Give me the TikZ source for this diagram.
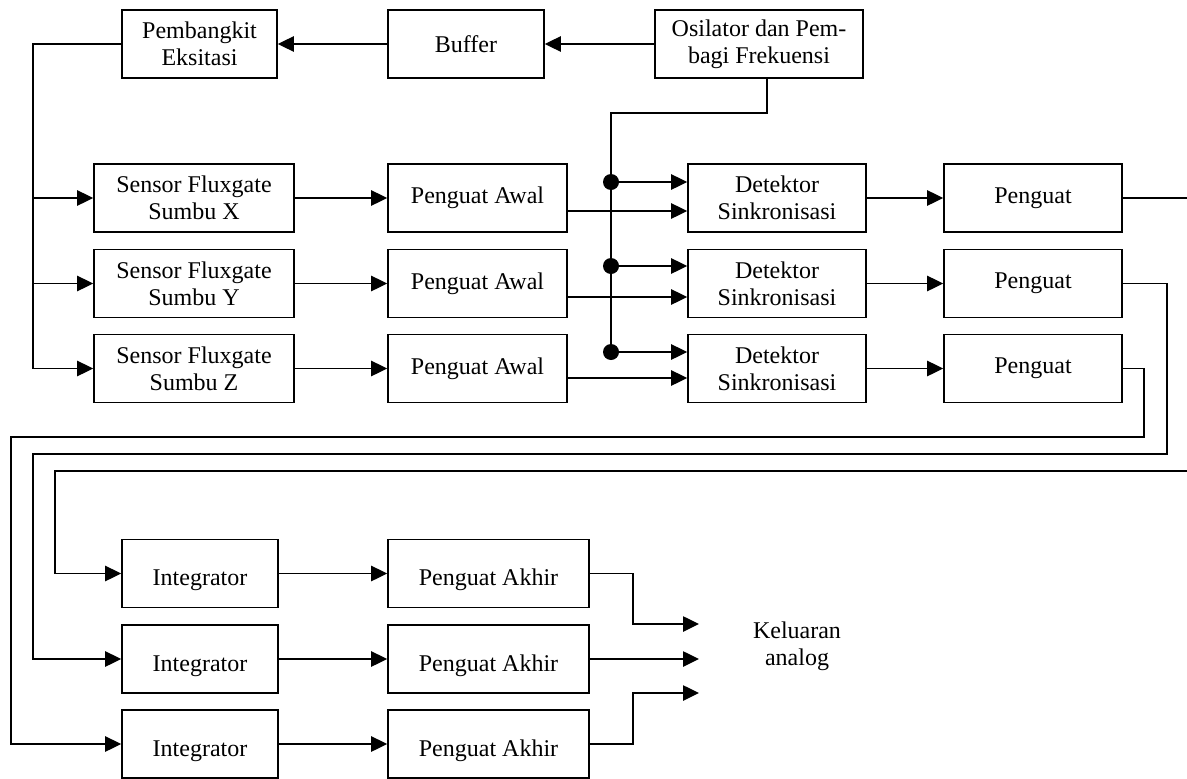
\documentclass[tikz,border=0pt]{standalone}
\usepackage{fontspec}
\setmainfont{Liberation Serif}
\usetikzlibrary{arrows.meta}

\begin{document}
\begin{tikzpicture}[x=0.75pt,y=-0.75pt,line width=1.1pt,
  blok/.style={draw,line width=1.2pt,align=center,minimum height=51pt,inner sep=2pt,
    font=\fontsize{18}{20.25}\selectfont},
  teksbawah/.style={text height=20pt,text depth=1.5pt},
  panah/.style={-{Triangle[length=12pt,width=11.5pt]}}]
\useasboundingbox (0,0) rectangle (1187,778);

% baris atas
\node[blok,minimum width=116.25pt] (pembangkit) at (199.5,44) {Pembangkit\\Eksitasi};
\node[blok,minimum width=117pt] (buffer) at (466,44) {Buffer};
\node[blok,minimum width=156pt] (osilator) at (759,44) {Osilator dan Pem-\\bagi Frekuensi};

% sensor, penguat awal, detektor, penguat
\node[blok,minimum width=150pt] (sensorX) at (194,198) {Sensor Fluxgate\\Sumbu X};
\node[blok,minimum width=150pt] (sensorY) at (194,283.5) {Sensor Fluxgate\\Sumbu Y};
\node[blok,minimum width=150pt] (sensorZ) at (194,368.5) {Sensor Fluxgate\\Sumbu Z};
\node[blok,minimum width=134.25pt] (awalX) at (477.5,198) {Penguat Awal};
\node[blok,minimum width=134.25pt] (awalY) at (477.5,283.5) {Penguat Awal};
\node[blok,minimum width=134.25pt] (awalZ) at (477.5,368.5) {Penguat Awal};
\node[blok,minimum width=133.5pt] (detX) at (777,198) {Detektor\\Sinkronisasi};
\node[blok,minimum width=133.5pt] (detY) at (777,283.5) {Detektor\\Sinkronisasi};
\node[blok,minimum width=133.5pt] (detZ) at (777,368.5) {Detektor\\Sinkronisasi};
\node[blok,minimum width=133.5pt] (pgX) at (1033,198) {Penguat};
\node[blok,minimum width=133.5pt] (pgY) at (1033,283.5) {Penguat};
\node[blok,minimum width=133.5pt] (pgZ) at (1033,368.5) {Penguat};

% integrator dan penguat akhir
\node[blok,teksbawah,minimum width=117pt] (int1) at (200,573.5) {Integrator};
\node[blok,teksbawah,minimum width=117pt] (int2) at (200,659) {Integrator};
\node[blok,teksbawah,minimum width=117pt] (int3) at (200,744) {Integrator};
\node[blok,teksbawah,minimum width=150.75pt] (akhir1) at (488.5,573.5) {Penguat Akhir};
\node[blok,teksbawah,minimum width=150.75pt] (akhir2) at (488.5,659) {Penguat Akhir};
\node[blok,teksbawah,minimum width=150.75pt] (akhir3) at (488.5,744) {Penguat Akhir};
\node[align=center,font=\fontsize{18}{20.25}\selectfont] (keluaran) at (797,646) {Keluaran\\analog};

% titik bantu
\coordinate (kiri) at (33,44);
\coordinate (osc) at ([xshift=6pt]osilator.south);
\coordinate (busA) at (611,113);
\coordinate (d1) at (611,182);
\coordinate (d2) at (611,266);
\coordinate (d3) at (611,352);
\coordinate (a1) at (0,211);
\coordinate (a2) at (0,297);
\coordinate (a3) at (0,378);
\coordinate (keluarX) at (1187,198);
\coordinate (masukX) at (1187,471);
\coordinate (o1) at (699,624);
\coordinate (o2) at (699,659);
\coordinate (o3) at (699,693);

% eksitasi
\draw[panah] (osilator.west) -- (buffer.east);
\draw[panah] (buffer.west) -- (pembangkit.east);
\draw[panah] (pembangkit.west) -- (kiri) |- (sensorZ.west);
\draw[panah] (kiri |- sensorX.west) -- (sensorX.west);
\draw[panah] (kiri |- sensorY.west) -- (sensorY.west);

\draw[panah] (sensorX.east) -- (awalX.west);
\draw[panah] (sensorY.east) -- (awalY.west);
\draw[panah] (sensorZ.east) -- (awalZ.west);

% referensi ke detektor
\draw (osc) |- (busA) -- (d3);
\fill (d1) circle (6pt) (d2) circle (6pt) (d3) circle (6pt);
\draw[panah] (d1) -- (detX.west |- d1);
\draw[panah] (d2) -- (detY.west |- d2);
\draw[panah] (d3) -- (detZ.west |- d3);
\draw[panah] (awalX.east |- a1) -- (detX.west |- a1);
\draw[panah] (awalY.east |- a2) -- (detY.west |- a2);
\draw[panah] (awalZ.east |- a3) -- (detZ.west |- a3);

\draw[panah] (detX.east) -- (pgX.west);
\draw[panah] (detY.east) -- (pgY.west);
\draw[panah] (detZ.east) -- (pgZ.west);

% ke integrator
\draw (pgX.east) -- (keluarX);
\draw[panah] (masukX) -- (55,471) |- (int1.west);
\draw[panah] (pgY.east) -| (1167,454) -- (33,454) |- (int2.west);
\draw[panah] (pgZ.east) -| (1144,437) -- (11,437) |- (int3.west);

\draw[panah] (int1.east) -- (akhir1.west);
\draw[panah] (int2.east) -- (akhir2.west);
\draw[panah] (int3.east) -- (akhir3.west);

% keluaran
\draw[panah] (akhir1.east) -| (633,624) -- (o1);
\draw[panah] (akhir2.east) -- (o2);
\draw[panah] (akhir3.east) -| (633,693) -- (o3);

\end{tikzpicture}
\end{document}
